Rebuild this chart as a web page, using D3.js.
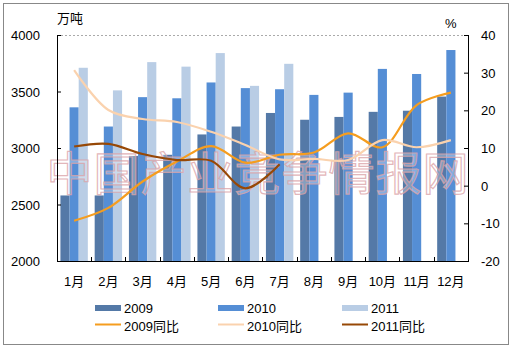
<!DOCTYPE html>
<html>
<head>
<meta charset="utf-8">
<script src="https://cdn.jsdelivr.net/npm/d3@7"></script>
<style>
  body { margin: 0; background: #fff; }
  text { font-family: Arial, "Liberation Sans", "Noto Sans CJK SC", sans-serif; font-size: 12px; fill: #000; }
</style>
</head>
<body>
<svg id="chart" width="513" height="349"></svg>
<script>
// data
const months = ['1月', '2月', '3月', '4月', '5月', '6月', '7月', '8月', '9月', '10月', '11月', '12月'];
const output2009 = [2580, 2580, 2930, 2940, 3120, 3190, 3310, 3250, 3275, 3320, 3330, 3455];
const output2010 = [3360, 3190, 3450, 3440, 3580, 3530, 3520, 3470, 3490, 3700, 3655, 3867];
const output2011 = [3710, 3510, 3760, 3720, 3840, 3550, 3745];
const yoy2009 = [-9.3, -5.9, 1.1, 6.4, 10.5, 6.1, 8.2, 8.8, 13.9, 10.2, 21.4, 24.7];
const yoy2010 = [30.7, 20.1, 17.7, 16.9, 14.3, 10.8, 7.0, 7.1, 6.8, 12.1, 10.2, 12.1];
const yoy2011 = [10.4, 11.1, 8.4, 6.8, 6.6, -0.7, 5.7];
const leftTicks = [2000, 2500, 3000, 3500, 4000];
const rightTicks = [-20, -10, 0, 10, 20, 30, 40];

const barSeries = [
  {name: '2009', values: output2009, color: '#5479a7'},
  {name: '2010', values: output2010, color: '#558ed5'},
  {name: '2011', values: output2011, color: '#b9cde5'}
];
const lineSeries = [
  {name: '2009同比', values: yoy2009, color: '#f59d1f'},
  {name: '2010同比', values: yoy2010, color: '#fad2ae'},
  {name: '2011同比', values: yoy2011, color: '#974806'}
];

const svg = d3.select('#chart');
const plotLeft = 57, plotRight = 468, plotTop = 35, plotBottom = 261;

// frame
svg.append('rect')
  .attr('x', 3.5).attr('y', 3.5)
  .attr('width', 505).attr('height', 341)
  .attr('fill', '#fff')
  .attr('stroke', '#888');

const x = d3.scaleBand().domain(months).range([plotLeft, plotRight])
  .paddingInner(0.2).paddingOuter(0.1);
const xi = d3.scaleBand().domain(barSeries.map(s => s.name)).range([0, x.bandwidth()]);
const yL = d3.scaleLinear().domain([2000, 4000]).range([plotBottom, plotTop]);
const yR = d3.scaleLinear().domain([-20, 40]).range([plotBottom, plotTop]);

// top dashed grid line
svg.append('line')
  .attr('x1', plotLeft).attr('x2', plotRight)
  .attr('y1', yL(4000) + 0.5).attr('y2', yL(4000) + 0.5)
  .attr('stroke', '#aaa').attr('stroke-dasharray', '2,2');

// bars
barSeries.forEach(s => {
  svg.append('g')
    .selectAll('rect')
    .data(s.values)
    .join('rect')
    .attr('x', (d, i) => x(months[i]) + xi(s.name))
    .attr('y', d => yL(d))
    .attr('width', xi.bandwidth())
    .attr('height', d => yL(2000) - yL(d))
    .attr('fill', s.color);
});

// watermark
svg.append('text')
  .attr('x', 258).attr('y', 190)
  .attr('text-anchor', 'middle')
  .style('font-family', '"Noto Sans CJK SC", sans-serif')
  .style('font-size', '46px')
  .style('letter-spacing', '1px')
  .style('fill', '#fff')
  .style('fill-opacity', 0.3)
  .style('stroke', '#dba3a8')
  .style('stroke-width', 1.2)
  .style('stroke-opacity', 0.8)
  .text('中国产业竞争情报网');

// lines
const line = d3.line()
  .x((d, i) => x(months[i]) + x.bandwidth() / 2)
  .y(d => yR(d))
  .curve(d3.curveCatmullRom.alpha(0.5));
lineSeries.forEach(s => {
  svg.append('path')
    .attr('d', line(s.values))
    .attr('fill', 'none')
    .attr('stroke', s.color)
    .attr('stroke-width', 2.2);
});

// axes
const axisL = svg.append('g')
  .attr('transform', `translate(${plotLeft},0)`)
  .call(d3.axisRight(yL).tickValues(leftTicks).tickSize(4).tickFormat(''));
axisL.selectAll('line, path').attr('stroke', '#000');
axisL.select('.domain').attr('d', `M0.5,${plotTop}V${plotBottom}`);
svg.append('g').selectAll('text')
  .data(leftTicks).join('text')
  .attr('x', 40).attr('y', d => yL(d) + 5)
  .attr('text-anchor', 'end')
  .style('font-size', '13px')
  .text(d => d);

const axisR = svg.append('g')
  .attr('transform', `translate(${plotRight},0)`)
  .call(d3.axisLeft(yR).tickValues(rightTicks).tickSize(4).tickFormat(''));
axisR.selectAll('line, path').attr('stroke', '#000');
axisR.select('.domain').attr('d', `M0.5,${plotTop}V${plotBottom}`);
svg.append('g').selectAll('text')
  .data(rightTicks).join('text')
  .attr('x', 481).attr('y', d => yR(d) + 5)
  .attr('text-anchor', 'start')
  .style('font-size', '13px')
  .text(d => d);

const axisB = svg.append('g')
  .attr('transform', `translate(0,${plotBottom})`);
axisB.append('line')
  .attr('x1', plotLeft).attr('x2', plotRight + 1)
  .attr('y1', 0.5).attr('y2', 0.5)
  .attr('stroke', '#000');
axisB.selectAll('line.tick')
  .data(months.slice(1)).join('line')
  .attr('class', 'tick')
  .attr('x1', d => Math.round(x(d) - x.step() * x.paddingInner() / 2) + 0.5)
  .attr('x2', d => Math.round(x(d) - x.step() * x.paddingInner() / 2) + 0.5)
  .attr('y1', 0).attr('y2', -4)
  .attr('stroke', '#000');
axisB.selectAll('text')
  .data(months).join('text')
  .attr('x', d => x(d) + x.bandwidth() / 2)
  .attr('y', 25)
  .attr('text-anchor', 'middle')
  .style('font-size', '13px')
  .text(d => d);

// unit labels
svg.append('text').attr('x', 57).attr('y', 23).style('font-size', '13px').text('万吨');
svg.append('text').attr('x', 445).attr('y', 28).style('font-size', '13px').text('%');

// legend
const legendCols = [95, 218, 342];
const legend = svg.append('g');
barSeries.forEach((s, i) => {
  legend.append('rect')
    .attr('x', legendCols[i]).attr('y', 305)
    .attr('width', 26).attr('height', 6)
    .attr('fill', s.color);
  legend.append('text')
    .attr('x', legendCols[i] + 29).attr('y', 313)
    .style('font-size', '13px')
    .text(s.name);
});
lineSeries.forEach((s, i) => {
  legend.append('line')
    .attr('x1', legendCols[i]).attr('x2', legendCols[i] + 26)
    .attr('y1', 324.5).attr('y2', 324.5)
    .attr('stroke', s.color).attr('stroke-width', 2);
  legend.append('text')
    .attr('x', legendCols[i] + 29).attr('y', 331)
    .style('font-size', '13px')
    .text(s.name);
});
</script>
</body>
</html>
